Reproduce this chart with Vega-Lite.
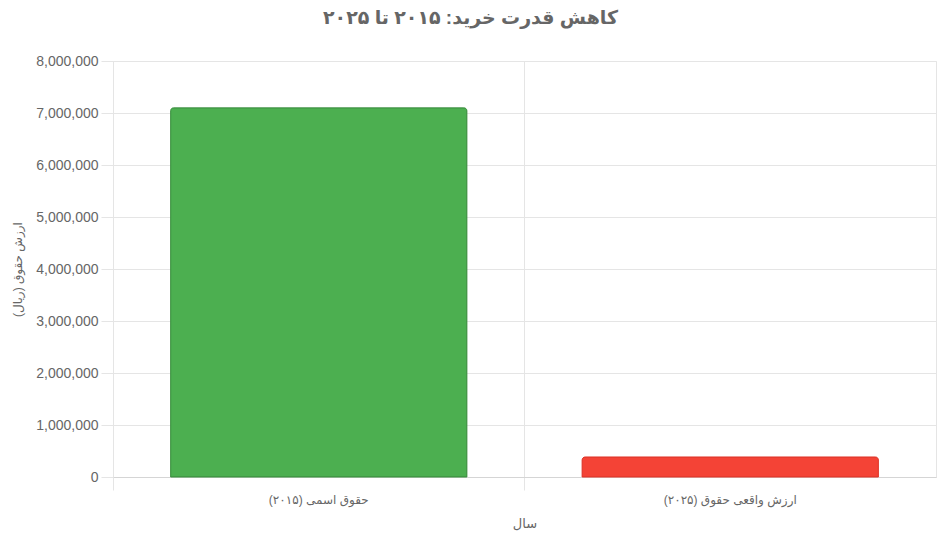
{
  "$schema": "https://vega.github.io/schema/vega-lite/v6.json",
  "autosize": {"type": "none"},
  "padding": {"left": 113, "top": 61, "right": 3, "bottom": 65},
  "width": 823,
  "height": 416,
  "background": "white",
  "title": {
    "text": "کاهش قدرت خرید: ۲۰۱۵ تا ۲۰۲۵",
    "font": "Liberation Sans, DejaVu Sans",
    "fontSize": 19,
    "fontWeight": "bold",
    "color": "#666666",
    "anchor": "middle",
    "dx": -54,
    "offset": 26
  },
  "config": {
    "view": {"stroke": "#e5e5e5"},
    "axis": {
      "labelFont": "Liberation Sans, DejaVu Sans",
      "titleFont": "Liberation Sans, DejaVu Sans",
      "labelColor": "#666666",
      "titleColor": "#666666",
      "gridColor": "#e5e5e5",
      "tickColor": "#e5e5e5",
      "domainColor": "#d5d5d5",
      "titleFontWeight": "normal"
    }
  },
  "data": {
    "values": [
      {"category": "حقوق اسمی (۲۰۱۵)", "value": 7100000},
      {"category": "ارزش واقعی حقوق (۲۰۲۵)", "value": 385000}
    ]
  },
  "mark": {
    "type": "bar",
    "cornerRadiusTopLeft": 3,
    "cornerRadiusTopRight": 3,
    "strokeWidth": 1
  },
  "encoding": {
    "x": {
      "field": "category",
      "type": "nominal",
      "sort": null,
      "title": "سال",
      "scale": {"paddingInner": 0.28, "paddingOuter": 0.14},
      "axis": {
        "labelAngle": 0,
        "labelFontSize": 12,
        "labelPadding": 4,
        "tickSize": 13,
        "bandPosition": -0.1944,
        "grid": true,
        "labelOffset": 0,
        "titleFontSize": 13,
        "titlePadding": 12
      }
    },
    "y": {
      "field": "value",
      "type": "quantitative",
      "title": "ارزش حقوق (ریال)",
      "scale": {"domain": [0, 8000000], "nice": false},
      "axis": {
        "values": [0, 1000000, 2000000, 3000000, 4000000, 5000000, 6000000, 7000000, 8000000],
        "format": ",d",
        "labelFontSize": 14,
        "labelPadding": 3,
        "tickSize": 12,
        "domain": false,
        "titleFontSize": 12,
        "titleX": -89
      }
    },
    "fill": {
      "field": "category",
      "type": "nominal",
      "sort": null,
      "scale": {"range": ["#4CAF50", "#F44336"]},
      "legend": null
    },
    "stroke": {
      "field": "category",
      "type": "nominal",
      "sort": null,
      "scale": {"range": ["#3d9140", "#e0382c"]},
      "legend": null
    }
  }
}
